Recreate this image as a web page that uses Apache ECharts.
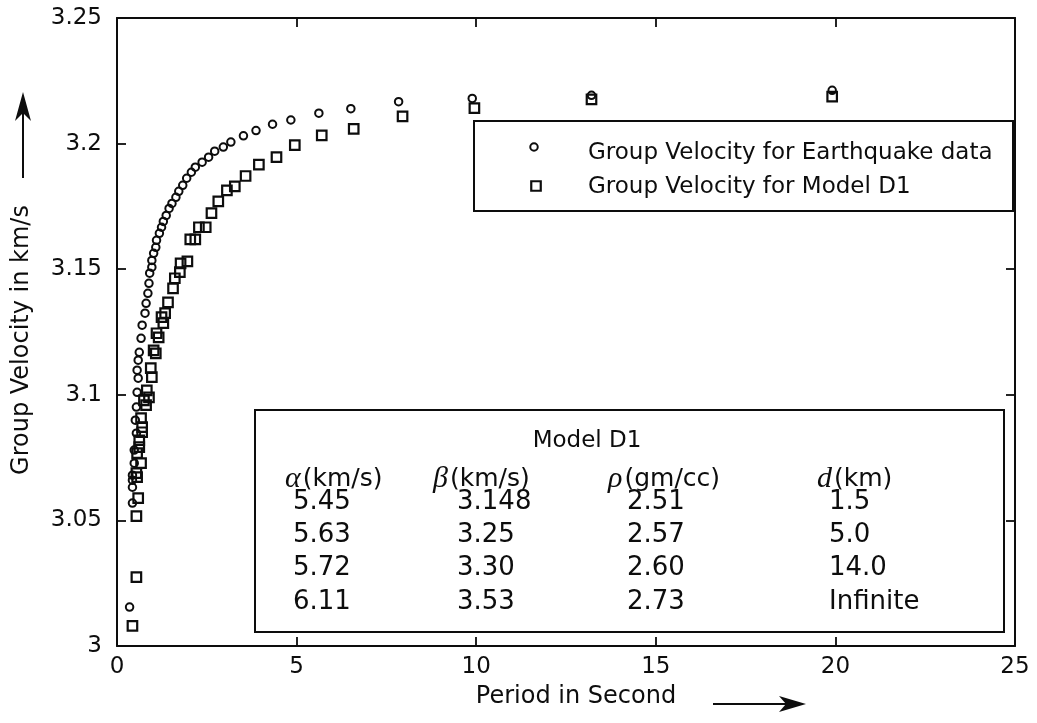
<!DOCTYPE html>
<html>
<head>
<meta charset="utf-8">
<script src="https://cdn.jsdelivr.net/npm/echarts@6/dist/echarts.min.js"></script>
<style>
  html, body { margin: 0; padding: 0; background: #fff; }
  #chart { width: 1037px; height: 723px; }
</style>
</head>
<body>
<div id="chart"></div>
<script>
// Rayleigh-wave group velocity dispersion: observed earthquake data vs. layered model D1

// Observed group velocity (period in s, velocity in km/s)
const periodEq = [
  0.35, 0.43, 0.43, 0.43, 0.43, 0.48, 0.48, 0.54, 0.51, 0.54,
  0.56, 0.59, 0.56, 0.59, 0.62, 0.67, 0.70, 0.78, 0.81, 0.86,
  0.89, 0.91, 0.97, 0.97, 1.02, 1.08, 1.10, 1.18, 1.24, 1.29,
  1.37, 1.45, 1.53, 1.64, 1.72, 1.83, 1.94, 2.07, 2.18, 2.37,
  2.55, 2.72, 2.96, 3.17, 3.52, 3.87, 4.33, 4.84, 5.62, 6.51,
  7.84, 9.89, 13.21, 19.91
];
const velocityEq = [
  3.0155, 3.0569, 3.0632, 3.0660, 3.0680, 3.0728, 3.0780, 3.0847, 3.0899, 3.0951,
  3.1010, 3.1066, 3.1098, 3.1138, 3.1169, 3.1225, 3.1277, 3.1325, 3.1364, 3.1404,
  3.1444, 3.1484, 3.1508, 3.1535, 3.1563, 3.1587, 3.1615, 3.1643, 3.1667, 3.1690,
  3.1714, 3.1742, 3.1762, 3.1786, 3.1810, 3.1834, 3.1862, 3.1886, 3.1906, 3.1926,
  3.1946, 3.1970, 3.1986, 3.2006, 3.2031, 3.2052, 3.2077, 3.2094, 3.2121, 3.2139,
  3.2167, 3.2180, 3.2192, 3.2212
];

// Computed group velocity for model D1
const periodD1 = [
  0.43, 0.54, 0.54, 0.59, 0.56, 0.54, 0.67, 0.56, 0.62, 0.62,
  0.70, 0.70, 0.67, 0.81, 0.75, 0.89, 0.83, 0.97, 0.94, 1.02,
  1.08, 1.10, 1.16, 1.24, 1.29, 1.34, 1.42, 1.56, 1.61, 1.75,
  1.77, 1.96, 2.04, 2.18, 2.28, 2.47, 2.63, 2.82, 3.06, 3.28,
  3.58, 3.95, 4.44, 4.95, 5.70, 6.59, 7.95, 9.95, 13.21, 19.91
];
const velocityD1 = [
  3.0080, 3.0274, 3.0517, 3.0589, 3.0672, 3.0688, 3.0728, 3.0768, 3.0792, 3.0819,
  3.0851, 3.0871, 3.0907, 3.0959, 3.0978, 3.0990, 3.1018, 3.1070, 3.1106, 3.1177,
  3.1165, 3.1245, 3.1229, 3.1309, 3.1285, 3.1325, 3.1368, 3.1424, 3.1464, 3.1488,
  3.1523, 3.1531, 3.1619, 3.1619, 3.1667, 3.1667, 3.1723, 3.1770, 3.1814, 3.1830,
  3.1871, 3.1916, 3.1946, 3.1994, 3.2033, 3.2059, 3.2108, 3.2141, 3.2176, 3.2187
];

// Axis ticks
const xTicks = [0, 5, 10, 15, 20, 25];
const yTicks = [3, 3.05, 3.1, 3.15, 3.2, 3.25];
const xTickLabels = ['0', '5', '10', '15', '20', '25'];
const yTickLabels = ['3', '3.05', '3.1', '3.15', '3.2', '3.25'];

// Texts
const xTitle = 'Period in Second';
const yTitle = 'Group Velocity in km/s';
const legendLabels = ['Group Velocity for Earthquake data', 'Group Velocity for Model D1'];

// Model D1 layer parameters
const tableTitle = 'Model D1';
const tableSymbols = ['α', 'β', 'ρ', 'd'];
const tableUnits = ['(km/s)', '(km/s)', '(gm/cc)', '(km)'];
const alphaVals = ['5.45', '5.63', '5.72', '6.11'];
const betaVals = ['3.148', '3.25', '3.30', '3.53'];
const rhoVals = ['2.51', '2.57', '2.60', '2.73'];
const depthVals = ['1.5', '5.0', '14.0', 'Infinite'];

const INK = '#0d0d0d';
const FONT = 'DejaVu Sans';

const pairs = (xs, ys) => xs.map((x, i) => [x, ys[i]]);
const tickText = (ticks, labels) => v => {
  const i = ticks.findIndex(t => Math.abs(t - v) < 1e-6);
  return i >= 0 ? labels[i] : '';
};

function valueAxis(extra) {
  return Object.assign({
    type: 'value',
    axisLine: { show: true, onZero: false, lineStyle: { color: INK, width: 2 } },
    axisTick: { show: true, inside: true, length: 9, lineStyle: { color: INK, width: 1.8 } },
    splitLine: { show: false },
    axisLabel: { show: false }
  }, extra);
}

const labelStyle = { fontFamily: FONT, fontSize: 23, color: INK };

// Table layout
const colX = [293, 457, 627, 829];
const headX = [285, 433, 608, 817];
const rowY = [502, 535, 568, 602];
const columns = [alphaVals, betaVals, rhoVals, depthVals];

const tableTexts = [];
tableTexts.push({
  type: 'text', x: 587, y: 441, z: 101,
  style: { text: tableTitle, font: '23px ' + FONT, fill: INK,
           align: 'center', verticalAlign: 'middle', textAlign: 'center', textVerticalAlign: 'middle' }
});
tableSymbols.forEach((s, c) => {
  tableTexts.push({
    type: 'text', x: headX[c], y: 479, z: 101,
    style: {
      text: '{g|' + s + '}' + tableUnits[c],
      font: '25px ' + FONT, fill: INK,
      align: 'left', verticalAlign: 'middle', textAlign: 'left', textVerticalAlign: 'middle',
      rich: { g: { font: 'italic 30px "Liberation Serif"', fill: INK, padding: [0, 2, 0, 0] } }
    }
  });
});
columns.forEach((vals, c) => {
  vals.forEach((v, r) => {
    tableTexts.push({
      type: 'text', x: colX[c], y: rowY[r], z: 101,
      style: { text: v, font: '26px ' + FONT, fill: INK,
               align: 'left', verticalAlign: 'middle', textAlign: 'left', textVerticalAlign: 'middle' }
    });
  });
});

const chart = echarts.init(document.getElementById('chart'), null, { renderer: 'canvas' });

chart.setOption({
  animation: false,
  backgroundColor: '#fff',
  grid: { left: 117, right: 22, top: 18, bottom: 77, containLabel: false },
  xAxis: [
    valueAxis({
      position: 'bottom', min: xTicks[0], max: xTicks[xTicks.length - 1], interval: 5,
      axisLabel: Object.assign({ show: true, margin: 10, formatter: tickText(xTicks, xTickLabels) }, labelStyle)
    }),
    valueAxis({ position: 'top', min: xTicks[0], max: xTicks[xTicks.length - 1], interval: 5 })
  ],
  yAxis: [
    valueAxis({
      position: 'left', min: yTicks[0], max: yTicks[yTicks.length - 1], interval: 0.05,
      axisLabel: Object.assign({ show: true, margin: 15, formatter: tickText(yTicks, yTickLabels) }, labelStyle)
    }),
    valueAxis({ position: 'right', min: yTicks[0], max: yTicks[yTicks.length - 1], interval: 0.05 })
  ],
  series: [
    {
      name: legendLabels[1], type: 'scatter', xAxisIndex: 0, yAxisIndex: 0,
      symbol: 'rect', symbolSize: 9.5,
      itemStyle: { color: 'rgba(0,0,0,0)', borderColor: INK, borderWidth: 2.2, opacity: 1 },
      data: pairs(periodD1, velocityD1)
    },
    {
      name: legendLabels[0], type: 'scatter', xAxisIndex: 0, yAxisIndex: 0,
      symbol: 'circle', symbolSize: 7.5,
      itemStyle: { color: 'rgba(0,0,0,0)', borderColor: INK, borderWidth: 2, opacity: 1 },
      data: pairs(periodEq, velocityEq)
    }
  ],
  graphic: [
    // axis titles with arrows
    {
      type: 'text', x: 22, y: 340, rotation: Math.PI / 2, z: 100,
      style: { text: yTitle, font: '24px ' + FONT, fill: INK,
               align: 'center', verticalAlign: 'middle', textAlign: 'center', textVerticalAlign: 'middle' }
    },
    { type: 'line', z: 100, shape: { x1: 23, y1: 178, x2: 23, y2: 112 }, style: { stroke: INK, lineWidth: 2 } },
    { type: 'polygon', z: 100, shape: { points: [[23, 92], [31, 121], [23, 113], [15, 121]] }, style: { fill: INK } },
    {
      type: 'text', x: 576, y: 697, z: 100,
      style: { text: xTitle, font: '24px ' + FONT, fill: INK,
               align: 'center', verticalAlign: 'middle', textAlign: 'center', textVerticalAlign: 'middle' }
    },
    { type: 'line', z: 100, shape: { x1: 713, y1: 704, x2: 788, y2: 704 }, style: { stroke: INK, lineWidth: 2 } },
    { type: 'polygon', z: 100, shape: { points: [[806, 704], [779, 696], [786, 704], [779, 712]] }, style: { fill: INK } },

    // legend
    { type: 'rect', z: 100, shape: { x: 474, y: 121, width: 539, height: 90 },
      style: { fill: '#fff', stroke: INK, lineWidth: 2 } },
    { type: 'circle', z: 101, shape: { cx: 534, cy: 147, r: 3.75 },
      style: { fill: 'none', stroke: INK, lineWidth: 2 } },
    { type: 'rect', z: 101, shape: { x: 531.25, y: 181.25, width: 9.5, height: 9.5 },
      style: { fill: 'none', stroke: INK, lineWidth: 2.2 } },
    { type: 'text', x: 588, y: 153, z: 101,
      style: { text: legendLabels[0], font: '23px ' + FONT, fill: INK,
               align: 'left', verticalAlign: 'middle', textAlign: 'left', textVerticalAlign: 'middle' } },
    { type: 'text', x: 588, y: 187, z: 101,
      style: { text: legendLabels[1], font: '23px ' + FONT, fill: INK,
               align: 'left', verticalAlign: 'middle', textAlign: 'left', textVerticalAlign: 'middle' } },

    // model parameter table
    { type: 'rect', z: 100, shape: { x: 255, y: 410, width: 749, height: 222 },
      style: { fill: '#fff', stroke: INK, lineWidth: 2 } }
  ].concat(tableTexts)
});
</script>
</body>
</html>
